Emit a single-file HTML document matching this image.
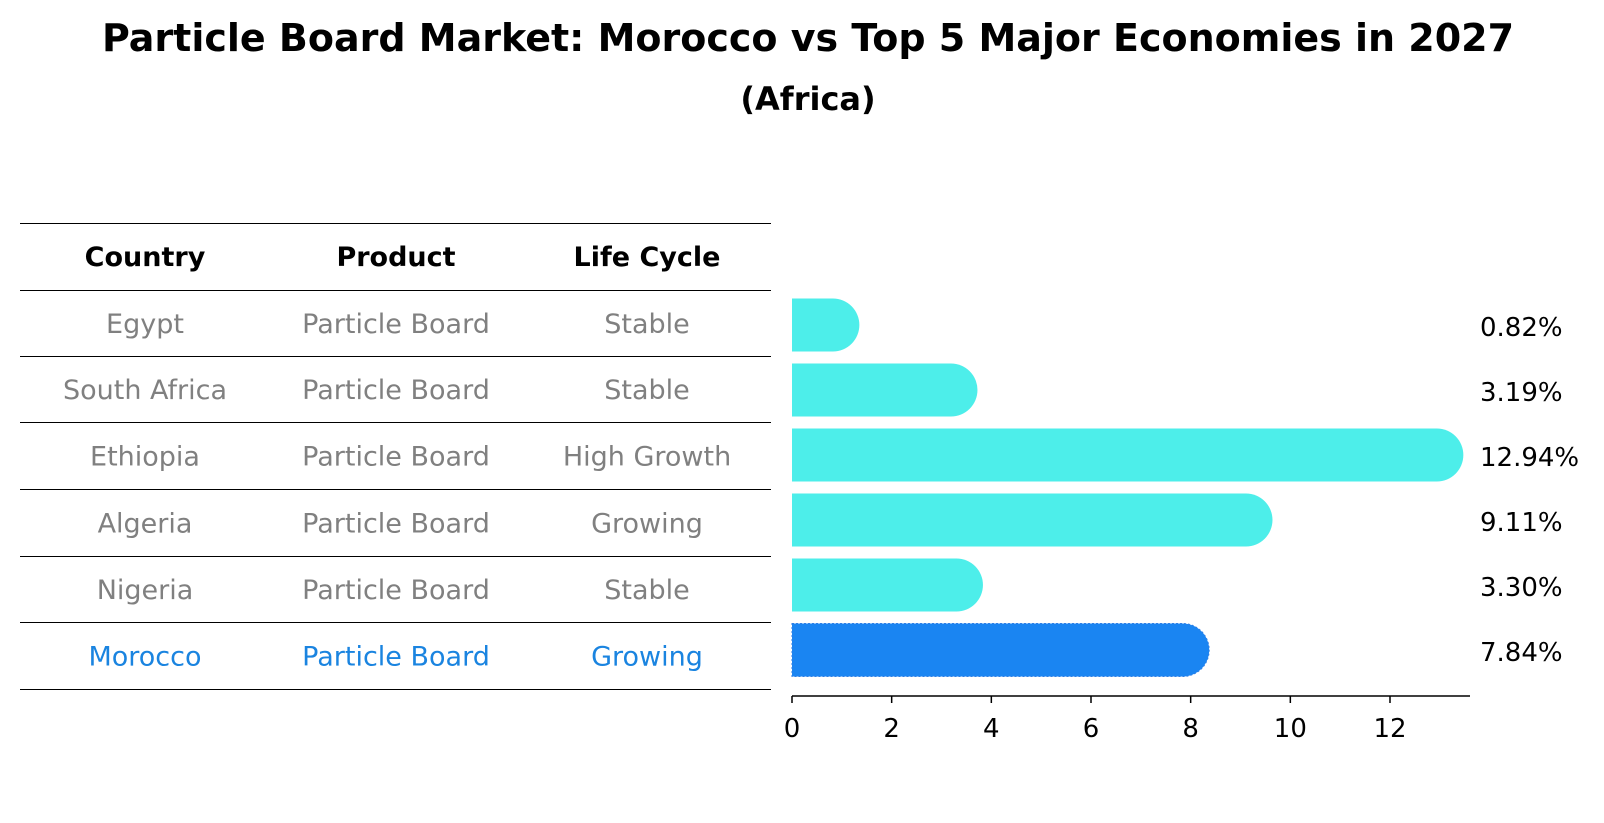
<!DOCTYPE html>
<html><head><meta charset="utf-8"><style>
body{margin:0;background:#fff}
svg{display:block;font-family:"DejaVu Sans","Liberation Sans",sans-serif}
</style></head><body>
<svg id="chart" width="1604" height="823" viewBox="0 0 1604 823" xmlns="http://www.w3.org/2000/svg">
<text x="808" y="51" text-anchor="middle" font-size="38" font-weight="bold">Particle Board Market: Morocco vs Top 5 Major Economies in 2027</text>
<text x="808" y="110" text-anchor="middle" font-size="32" font-weight="bold">(Africa)</text>
<g id="table"></g>
<g id="bars"></g>
<g id="xaxis"></g>
</svg>
<script>
const countries = ["Egypt","South Africa","Ethiopia","Algeria","Nigeria","Morocco"];
const products = ["Particle Board","Particle Board","Particle Board","Particle Board","Particle Board","Particle Board"];
const lifeCycles = ["Stable","Stable","High Growth","Growing","Stable","Growing"];
const values = [0.82,3.19,12.94,9.11,3.30,7.84];
const valueLabels = ["0.82%","3.19%","12.94%","9.11%","3.30%","7.84%"];
const xTicks = [0,2,4,6,8,10,12];
const highlight = "Morocco";

const NS="http://www.w3.org/2000/svg";
function mk(tag,attrs,parent){const e=document.createElementNS(NS,tag);for(const k in attrs)e.setAttribute(k,attrs[k]);parent.appendChild(e);return e;}
const x0=792, pxPerUnit=(1390-792)/12;
const xs=v=>x0+v*pxPerUnit;
const rowY=i=>325+i*65;
const barH=53;

const tbl=document.getElementById('table');
const lineYs=[223,290,356,422,489,556,622,689];
const colX=[145,396,647];
lineYs.forEach(y=>{
  const l=mk('line',{x1:20,x2:771,y1:y+0.5,y2:y+0.5,stroke:'#000','stroke-width':1},tbl);
  
  
});
["Country","Product","Life Cycle"].forEach((h,j)=>{
  const t=mk('text',{x:colX[j],y:256+10,'text-anchor':'middle','font-size':27,'font-weight':'bold'},tbl);
  t.textContent=h;
  
  
});
countries.forEach((c,i)=>{
  const cy=(lineYs[i+1]+lineYs[i+2])/2+10;
  const col=c===highlight?'#1a84e0':'#808080';
  [c,products[i],lifeCycles[i]].forEach((v,j)=>{
    const t=mk('text',{x:colX[j],y:cy,'text-anchor':'middle','font-size':27,fill:col},tbl);
    t.textContent=v;
    
    
  });
});

const bars=document.getElementById('bars');
values.forEach((v,i)=>{
  const cy=rowY(i), top=cy-barH/2, r=barH/2, xe=xs(v);
  const isH=countries[i]===highlight;
  const d=`M${x0},${top} H${xe} A${r},${r} 0 0 1 ${xe},${top+barH} H${x0} Z`;
  const p=mk('path',{d:d,fill:isH?'#1a85f2':'#4deeea'},bars);
  if(isH){p.setAttribute('stroke','#2f7fe6');p.setAttribute('stroke-dasharray','2,2');p.setAttribute('stroke-width','1');}
  
  
  const t=mk('text',{x:1480,y:cy+11,'font-size':26},bars);
  t.textContent=valueLabels[i];
  
  
});

const ax=document.getElementById('xaxis');
const sp=mk('line',{x1:x0,x2:1470,y1:696,y2:696,stroke:'#000','stroke-width':1.5},ax);


xTicks.forEach(v=>{
  const tk=mk('line',{x1:xs(v),x2:xs(v),y1:696,y2:703,stroke:'#000','stroke-width':1.5},ax);
  
  
  const t=mk('text',{x:xs(v),y:737,'text-anchor':'middle','font-size':26},ax);
  t.textContent=v;
  
  
});
</script>
</body></html>
